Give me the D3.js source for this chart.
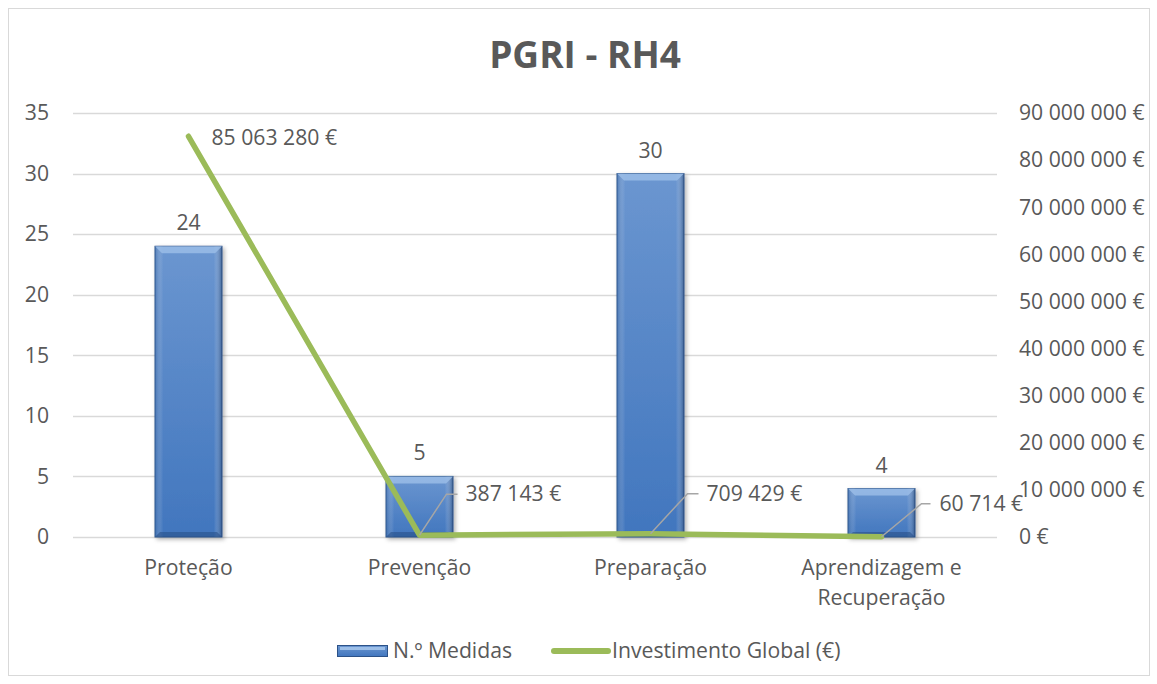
<!DOCTYPE html>
<html><head><meta charset="utf-8">
<script src="https://cdn.jsdelivr.net/npm/d3@7"></script>
<style>body{margin:0;background:#fff;} text{font-family:"Open Sans",sans-serif;fill:#595959;}</style>
</head><body><svg id="c" width="1157" height="684"></svg>
<script>
const categories = [["Proteção"],["Prevenção"],["Preparação"],["Aprendizagem e","Recuperação"]];
const medidas = [24, 5, 30, 4];
const investimento = [85063280, 387143, 709429, 60714];
const leftTicks = [0,5,10,15,20,25,30,35];
const rightTicks = [0,10000000,20000000,30000000,40000000,50000000,60000000,70000000,80000000,90000000];
const title = "PGRI - RH4";
const legendLabels = ["N.º Medidas","Investimento Global (€)"];

const svg = d3.select("#c");
const m={l:73,r:997,t:113,b:537};
const FS = 21.2;
const fmt = v => d3.format(",")(v).replace(/,/g," ");

svg.append("rect").attr("x",8.5).attr("y",8.5).attr("width",1141).attr("height",667).attr("fill","#fff").attr("stroke","#d9d9d9");

svg.append("text").attr("x",585).attr("y",68).attr("text-anchor","middle").attr("font-size",37).attr("font-weight","bold").text(title);

const x = d3.scaleBand().domain(d3.range(categories.length)).range([m.l,m.r]).paddingInner(0.71).paddingOuter(0.355);
const y = d3.scaleLinear().domain([0,35]).range([m.b,m.t]);
const y2 = d3.scaleLinear().domain([0,90000000]).range([m.b,m.t]);

svg.append("g").selectAll("line").data(leftTicks).join("line")
 .attr("x1",m.l).attr("x2",m.r).attr("y1",d=>Math.round(y(d))+0.5).attr("y2",d=>Math.round(y(d))+0.5)
 .attr("stroke","#d9d9d9").attr("stroke-width",1.5);

const la = svg.append("g").attr("transform",`translate(${m.l},0)`).call(d3.axisLeft(y).tickValues(leftTicks).tickSize(0).tickPadding(24));
la.select(".domain").remove();
la.selectAll("text").attr("font-size",FS).attr("fill","#595959").style("font-family","Open Sans");

const ra = svg.append("g").attr("transform",`translate(${m.r},0)`).call(d3.axisRight(y2).tickValues(rightTicks).tickFormat(d=>fmt(d)+" €").tickSize(0).tickPadding(22));
ra.select(".domain").remove();
ra.selectAll("text").attr("font-size",FS).attr("fill","#595959").style("font-family","Open Sans");

const cg = svg.append("g");
categories.forEach((c,i)=>{
  const t = cg.append("text").attr("x",x(i)+x.bandwidth()/2).attr("y",575).attr("text-anchor","middle").attr("font-size",FS);
  c.forEach((s,j)=>t.append("tspan").attr("x",x(i)+x.bandwidth()/2).attr("dy",j?30:0).text(s));
});

const defs = svg.append("defs");
const g1 = defs.append("linearGradient").attr("id","bg").attr("x1",0).attr("x2",0).attr("y1",0).attr("y2",1);
g1.append("stop").attr("offset","0%").attr("stop-color","#6b96d0");
g1.append("stop").attr("offset","100%").attr("stop-color","#4176be");
const g2 = defs.append("linearGradient").attr("id","bh").attr("x1",0).attr("x2",1).attr("y1",0).attr("y2",0);
g2.append("stop").attr("offset","0%").attr("stop-color","#2f5d9a").attr("stop-opacity",0.5);
g2.append("stop").attr("offset","12%").attr("stop-color","#fff").attr("stop-opacity",0);
g2.append("stop").attr("offset","88%").attr("stop-color","#fff").attr("stop-opacity",0);
g2.append("stop").attr("offset","100%").attr("stop-color","#1f3f6e").attr("stop-opacity",0.6);
const flt = defs.append("filter").attr("id","sh").attr("x","-20%").attr("y","-20%").attr("width","150%").attr("height","150%");
flt.append("feDropShadow").attr("dx",2).attr("dy",2).attr("stdDeviation",2).attr("flood-color","#000").attr("flood-opacity",0.3);

const bars = svg.append("g");
medidas.forEach((v,i)=>{
  const bx=x(i), bw=x.bandwidth(), by=y(v), bh=y(0)-y(v);
  const gg = bars.append("g").attr("filter","url(#sh)");
  gg.append("rect").attr("x",bx).attr("y",by).attr("width",bw).attr("height",bh).attr("fill","url(#bg)").attr("stroke","#2c5288").attr("stroke-width",1);
  gg.append("rect").attr("x",bx).attr("y",by).attr("width",bw).attr("height",bh).attr("fill","url(#bh)");
  gg.append("path").attr("d",`M${bx},${by}L${bx+bw},${by}L${bx+bw-7},${by+7}L${bx+7},${by+7}Z`).attr("fill","#9dbfe8").attr("opacity",0.8);
  gg.append("path").attr("d",`M${bx},${by+bh}L${bx+bw},${by+bh}L${bx+bw-5},${by+bh-5}L${bx+5},${by+bh-5}Z`).attr("fill","#2a5189").attr("opacity",0.6);
  svg.append("text").attr("x",bx+bw/2).attr("y",by-16).attr("text-anchor","middle").attr("font-size",FS).text(v);
});

const cx = i => x(i)+x.bandwidth()/2;
svg.append("path").datum(investimento)
 .attr("d",d3.line().x((d,i)=>cx(i)).y(d=>y2(d)))
 .attr("fill","none").attr("stroke","#9bbb59").attr("stroke-width",5.5).attr("stroke-linecap","round").attr("stroke-linejoin","round");

const offs = [[0,0,0,23,false],[27,-41,38,46,true],[37,-40,48,56,true],[40,-33,49,58,true]];
investimento.forEach((v,i)=>{
  const px=cx(i), py=y2(v);
  const [ex,ey,hx,tx,lead]=offs[i];
  if(lead){
    svg.append("path").attr("d",`M${px},${py}L${px+ex},${py+ey}L${px+hx},${py+ey}`).attr("fill","none").attr("stroke","#a6a6a6").attr("stroke-width",1.5);
  }
  svg.append("text").attr("x",px+tx).attr("y",py+ey+(lead?7:9)).attr("font-size",FS).text(fmt(v)+" €");
});

const lg = svg.append("g");
lg.append("rect").attr("x",337.5).attr("y",645.5).attr("width",50).attr("height",11).attr("fill","url(#bg)").attr("stroke","#2c5288");
lg.append("rect").attr("x",340).attr("y",647).attr("width",45).attr("height",3).attr("fill","#9dbfe8");
lg.append("text").attr("x",393).attr("y",658).attr("font-size",FS).text(legendLabels[0]);
lg.append("line").attr("x1",554).attr("x2",608).attr("y1",651).attr("y2",651).attr("stroke","#9bbb59").attr("stroke-width",6).attr("stroke-linecap","round");
lg.append("text").attr("x",612).attr("y",658).attr("font-size",FS).text(legendLabels[1]);
</script></body></html>
